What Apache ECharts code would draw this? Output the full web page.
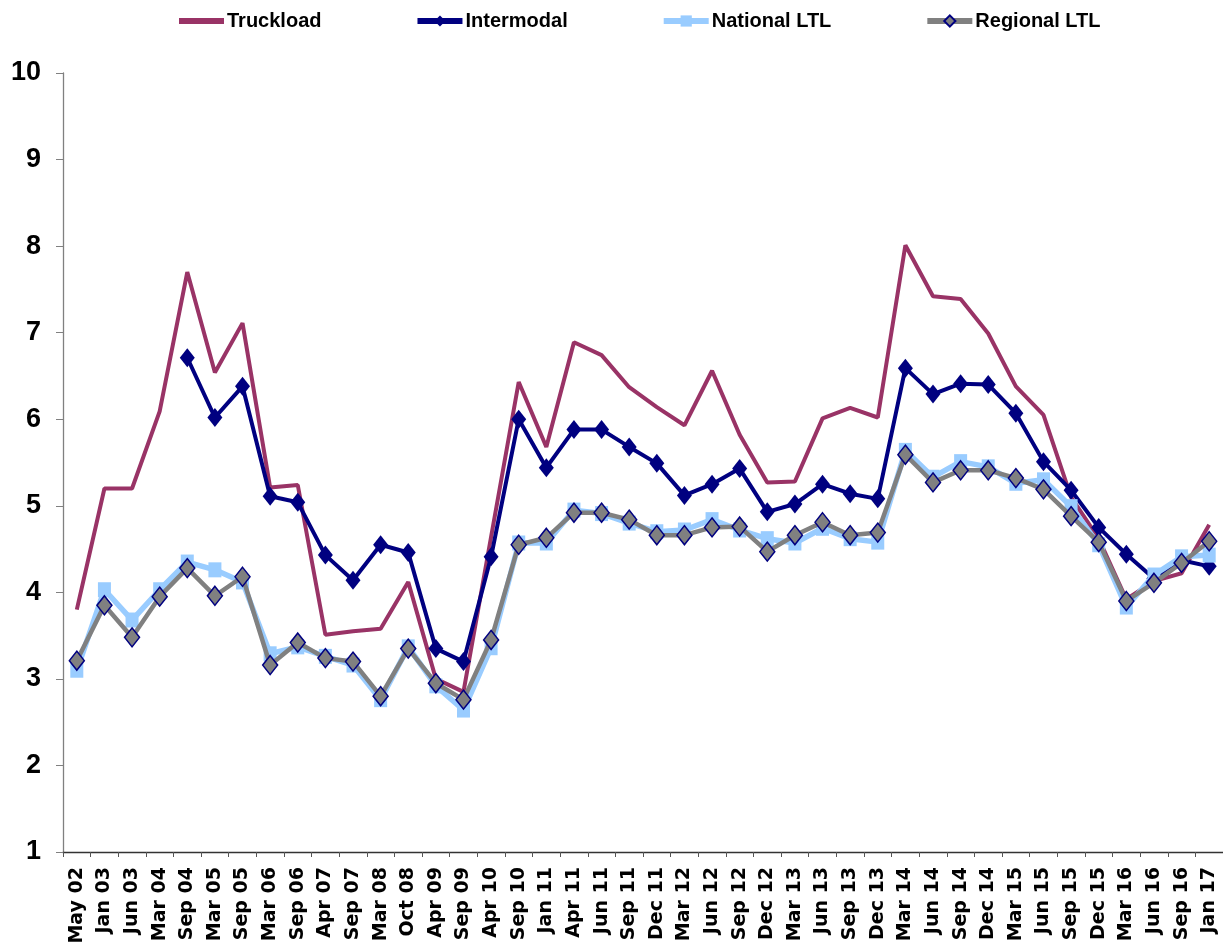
<!DOCTYPE html>
<html>
<head>
<meta charset="utf-8">
<script src="https://cdn.jsdelivr.net/npm/echarts@6/dist/echarts.min.js"></script>
<style>
html,body{margin:0;padding:0;background:#fff;}
#chart{width:1223px;height:952px;}
</style>
</head>
<body>
<div id="chart"></div>
<script>
const categories = ['May 02','Jan 03','Jun 03','Mar 04','Sep 04','Mar 05','Sep 05','Mar 06','Sep 06','Apr 07','Sep 07','Mar 08','Oct 08','Apr 09','Sep 09','Apr 10','Sep 10','Jan 11','Apr 11','Jun 11','Sep 11','Dec 11','Mar 12','Jun 12','Sep 12','Dec 12','Mar 13','Jun 13','Sep 13','Dec 13','Mar 14','Jun 14','Sep 14','Dec 14','Mar 15','Jun 15','Sep 15','Dec 15','Mar 16','Jun 16','Sep 16','Jan 17'];

const truckload = [3.80,5.20,5.20,6.09,7.70,6.54,7.11,5.21,5.24,3.51,3.55,3.58,4.12,3.00,2.85,4.64,6.43,5.68,6.89,6.74,6.37,6.14,5.93,6.56,5.82,5.27,5.28,6.01,6.13,6.02,8.01,7.42,7.39,6.99,6.38,6.05,5.10,4.62,3.92,4.13,4.22,4.78];
const intermodal = [null,null,null,null,6.71,6.02,6.38,5.11,5.04,4.43,4.14,4.55,4.46,3.35,3.20,4.41,6.00,5.44,5.88,5.88,5.68,5.49,5.12,5.25,5.43,4.93,5.02,5.25,5.14,5.08,6.59,6.29,6.41,6.40,6.07,5.51,5.18,4.75,4.44,4.16,4.37,4.30];
const nationalLTL = [3.10,4.03,3.68,4.03,4.35,4.26,4.12,3.29,3.37,3.26,3.16,2.76,3.37,2.92,2.64,3.36,4.57,4.57,4.95,4.91,4.80,4.70,4.72,4.84,4.72,4.62,4.57,4.74,4.62,4.58,5.64,5.33,5.51,5.45,5.26,5.30,4.99,4.55,3.83,4.20,4.41,4.43];
const regionalLTL = [3.21,3.85,3.48,3.95,4.28,3.96,4.18,3.16,3.42,3.24,3.20,2.80,3.35,2.95,2.76,3.45,4.55,4.63,4.92,4.92,4.84,4.66,4.66,4.75,4.76,4.47,4.66,4.81,4.66,4.69,5.59,5.27,5.41,5.41,5.32,5.19,4.88,4.58,3.90,4.11,4.34,4.59];
const yTicks = [1,2,3,4,5,6,7,8,9,10];

const sans = "'Liberation Sans',Arial,sans-serif";
const chart = echarts.init(document.getElementById('chart'), null, {renderer:'canvas'});
chart.setOption({
  animation: false,
  backgroundColor: '#fff',
  legend: {
    top: 6,
    left: 171,
    itemWidth: 45,
    itemHeight: 14,
    itemGap: 93,
    lineStyle: {width: 6},
    textStyle: {fontFamily: sans, fontWeight: 'bold', fontSize: 20, color: '#000', padding:[0,0,0,-2]},
    data: [
      {name: 'Truckload', itemStyle: {opacity: 0}},
      {name: 'Intermodal'},
      {name: 'National LTL'},
      {name: 'Regional LTL'}
    ]
  },
  grid: {left: 63, right: -3, top: 73, bottom: 100, containLabel: false},
  xAxis: {
    type: 'category',
    data: categories,
    boundaryGap: true,
    axisLine: {lineStyle: {color: '#333', width: 1.3}},
    axisTick: {show: true, length: 5, lineStyle: {color: '#555'}},
    axisLabel: {rotate: 90, interval: 0, margin: 15, fontFamily: "'DejaVu Sans',sans-serif", fontWeight: 'bold', fontSize: 19, color: '#000'}
  },
  yAxis: {
    type: 'value',
    min: yTicks[0], max: yTicks[yTicks.length-1], interval: 1,
    splitLine: {show: false},
    axisLine: {show: true, lineStyle: {color: '#808080', width: 1.3}},
    axisTick: {show: true, length: 7, lineStyle: {color: '#808080'}},
    axisLabel: {margin: 22, fontFamily: sans, fontWeight: 'bold', fontSize: 27, color: '#000'}
  },
  series: [
    {name: 'Truckload', type: 'line', data: truckload, showSymbol: false, symbol: 'none',
     lineStyle: {color: '#993366', width: 4}, itemStyle: {color: '#993366'}, z: 2},
    {name: 'Intermodal', type: 'line', data: intermodal, symbol: 'diamond', symbolSize: [15,19],
     lineStyle: {color: '#000080', width: 4}, itemStyle: {color: '#000080'}, z: 3},
    {name: 'National LTL', type: 'line', data: nationalLTL, symbol: 'rect', symbolSize: [13,15],
     lineStyle: {color: '#99CCFF', width: 5.5}, itemStyle: {color: '#99CCFF'}, z: 4},
    {name: 'Regional LTL', type: 'line', data: regionalLTL, symbol: 'diamond', symbolSize: [15,19],
     lineStyle: {color: '#808080', width: 4.5}, itemStyle: {color: '#808080', borderColor: '#000080', borderWidth: 1.5}, z: 5}
  ]
});
</script>
</body>
</html>
